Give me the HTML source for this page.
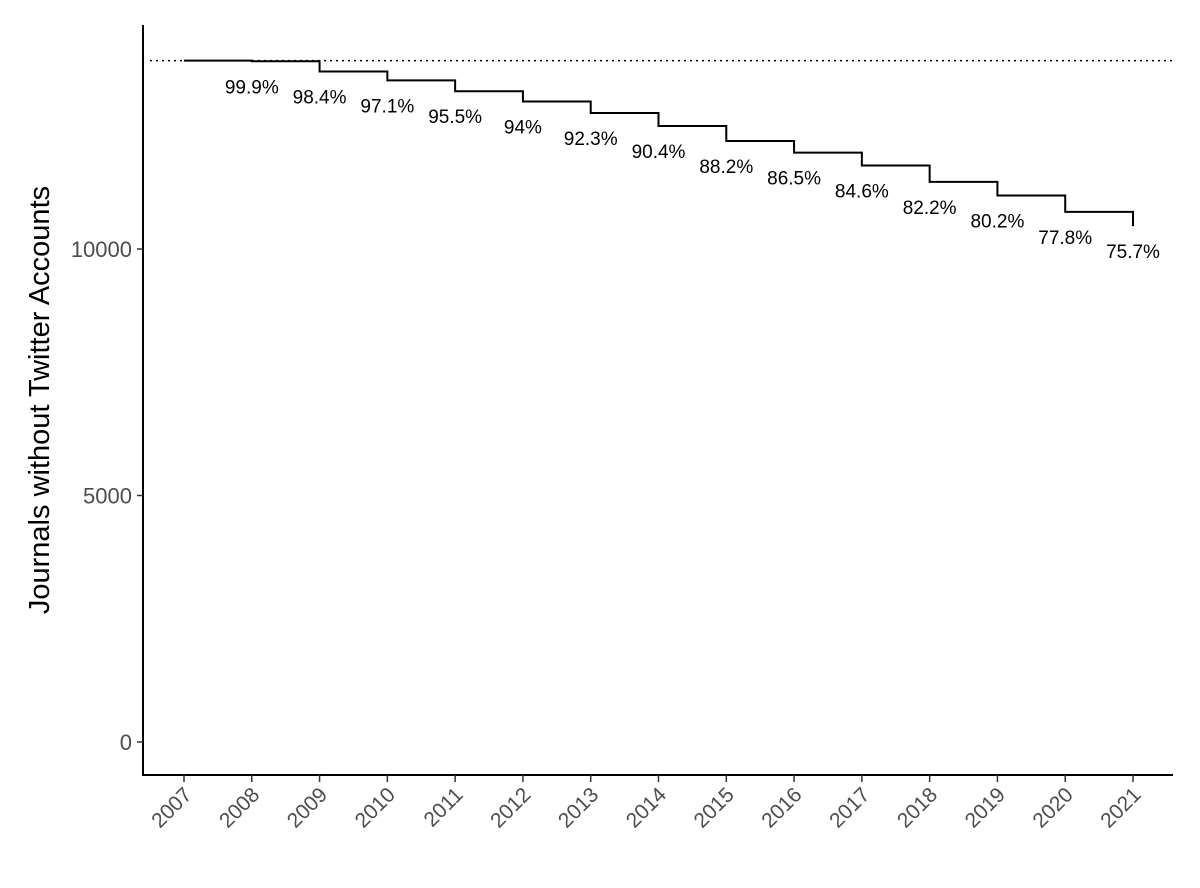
<!DOCTYPE html>
<html><head><meta charset="utf-8"><style>
body{margin:0;background:#fff;}
svg text{font-family:"Liberation Sans",Arial,sans-serif;}
</style></head><body>
<svg width="1200" height="883" viewBox="0 0 1200 883" xmlns="http://www.w3.org/2000/svg">
<g id="plot"></g>
</svg>
<script>
const years=[2007,2008,2009,2010,2011,2012,2013,2014,2015,2016,2017,2018,2019,2020,2021];
const pcts=[100,99.9,98.4,97.1,95.5,94,92.3,90.4,88.2,86.5,84.6,82.2,80.2,77.8,75.7];
const pctLabels=["","99.9%","98.4%","97.1%","95.5%","94%","92.3%","90.4%","88.2%","86.5%","84.6%","82.2%","80.2%","77.8%","75.7%"];
const total=13822;
const yTicks=[0,5000,10000];
const NS="http://www.w3.org/2000/svg";
const g=document.getElementById('plot');
const x=yr=>184+(yr-2007)*(1133-184)/14;
const y=v=>742-v*(742-249)/10000;
function mk(tag,attrs,parent){const e=document.createElementNS(NS,tag);for(const k in attrs)e.setAttribute(k,attrs[k]);(parent||g).appendChild(e);return e;}
let ax=mk('line',{x1:143,y1:25,x2:143,y2:776,stroke:'#000','stroke-width':2});


let bx=mk('line',{x1:142,y1:775,x2:1173,y2:775,stroke:'#000','stroke-width':2});


yTicks.forEach(t=>{
  const tk=mk('line',{x1:137,y1:y(t),x2:143,y2:y(t),stroke:'#333','stroke-width':1.5});
  
  
  const tl=mk('text',{x:132,y:y(t)+8,'text-anchor':'end','font-size':22,fill:'#4d4d4d'});
  tl.textContent=t;
  
  
});
years.forEach(yr=>{
  const tk=mk('line',{x1:x(yr),y1:775,x2:x(yr),y2:782,stroke:'#333','stroke-width':1.5});
  
  
  const tl=mk('text',{x:0,y:0,'text-anchor':'end','font-size':21,fill:'#4d4d4d',transform:`translate(${x(yr)+9},${796}) rotate(-45)`});
  tl.textContent=yr;
  
  
});
const yt=mk('text',{x:0,y:0,'text-anchor':'middle','font-size':29,fill:'#000',transform:'translate(49,400) rotate(-90)'});
yt.textContent='Journals without Twitter Accounts';


const ref=mk('line',{x1:150,y1:y(total),x2:1173,y2:y(total),stroke:'#000','stroke-width':1.5,'stroke-dasharray':'2,4'});


let d='';
years.forEach((yr,i)=>{
  const v=total*pcts[i]/100;
  if(i===0)d+=`M${x(yr)},${y(v)}`;else d+=`L${x(yr)},${y(total*pcts[i-1]/100)}L${x(yr)},${y(v)}`;
});
const p=mk('path',{d:d,fill:'none',stroke:'#000','stroke-width':2});


years.forEach((yr,i)=>{
  if(!pctLabels[i])return;
  const v=total*pcts[i]/100;
  const t=mk('text',{x:x(yr),y:y(v)+32,'text-anchor':'middle','font-size':19,fill:'#000'});
  t.textContent=pctLabels[i];
  
  
});
</script>
</body></html>
